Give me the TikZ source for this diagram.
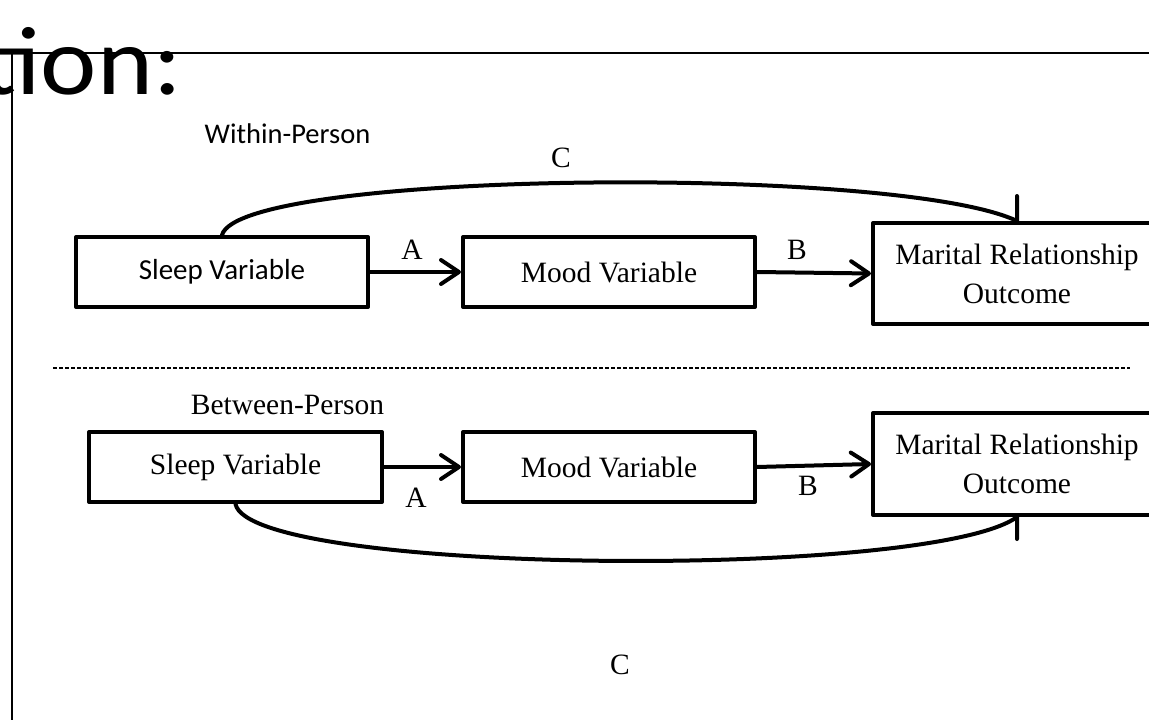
\documentclass[tikz,border=0pt]{standalone}
\usepackage{fontspec}
\usepackage{graphicx}
\setmainfont{Liberation Serif}
\newfontfamily\calibrifont{Carlito}
\usetikzlibrary{arrows.meta}
\begin{document}
\begin{tikzpicture}[x=1pt,y=-1pt,
  varbox/.style={draw,line width=4pt,line join=round,inner sep=0pt,
    minimum height=70pt,minimum width=292pt,align=center,
    font=\fontsize{29.5}{39}\selectfont},
  outbox/.style={varbox,minimum height=101pt,minimum width=288pt},
  path/.style={line width=4pt,line cap=round,line join=round},
  patharrow/.style={path,-{Straight Barb[length=18pt,width=24pt,line join=round,line cap=round]}},
  lbl/.style={font=\fontsize{29.5}{35}\selectfont,inner sep=0pt}]
\useasboundingbox (0,0) rectangle (1149,720);
\clip (0,0) rectangle (1149,720);

% slide frame and heading fragment
\draw[line width=1.8pt] (12,720) -- (12,53) -- (1149,53);
\node[anchor=base east,inner sep=0pt,font=\calibrifont\fontsize{97}{110}\selectfont] (heading) at (182,94) {\scalebox{1.1}[1]{tion:}};

% within-person model
\node[anchor=base,inner sep=0pt,font=\calibrifont\fontsize{28.5}{34}\selectfont] (within) at (287.5,143) {Within-Person};
\node[varbox,font=\calibrifont\fontsize{29}{35}\selectfont] (sleepT) at (222,272) {Sleep Variable};
\node[varbox] (moodT) at (609,272) {Mood Variable};
\node[outbox] (maritalT) at (1017,273.5) {Marital Relationship\\Outcome};

\draw[patharrow] (sleepT.east) -- (moodT.west);
\draw[patharrow] (moodT.east) -- (maritalT.west);
\draw[path] (sleepT.north) .. controls (240,170) and (900,165) .. (maritalT.north) -- ++(0,-25);

\node[lbl] (aT) at (412,250) {A};
\node[lbl] (bT) at (797,250) {B};
\node[lbl] (cT) at (561,158) {C};

% separator
\draw[line width=1.5pt,dash pattern=on 4pt off 2pt] (53,368) -- (1130,368);

% between-person model
\node[anchor=base,lbl] (between) at (287.5,414) {Between-Person};
\node[varbox,minimum width=293pt] (sleepB) at (235.5,467) {Sleep Variable};
\node[varbox] (moodB) at (609,467) {Mood Variable};
\node[outbox,minimum height=102pt] (maritalB) at (1017,464) {Marital Relationship\\Outcome};

\draw[patharrow] (sleepB.east) -- (moodB.west);
\draw[patharrow] (moodB.east) -- (maritalB.west);
\draw[path] (sleepB.south) .. controls (250,575) and (930,580) .. (maritalB.south) -- ++(0,22);

\node[lbl] (aB) at (416,498) {A};
\node[lbl] (bB) at (808,486) {B};
\node[lbl] (cB) at (620,665) {C};
\end{tikzpicture}
\end{document}
